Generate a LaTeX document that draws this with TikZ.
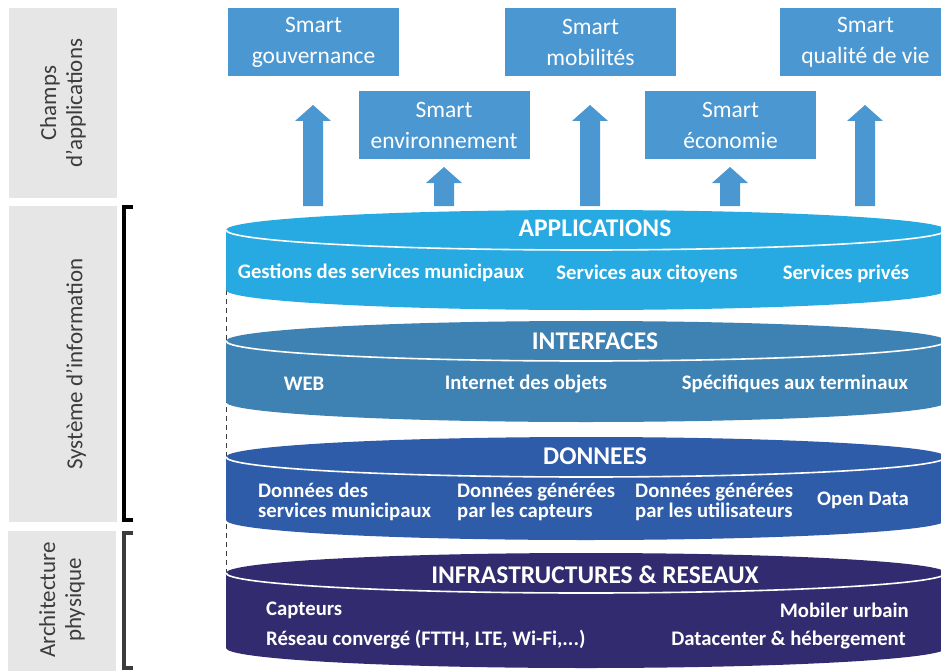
\documentclass[tikz,border=0pt]{standalone}
\usepackage{fontspec}
\setmainfont{Carlito}
\usetikzlibrary{positioning}
\definecolor{boxblue}{HTML}{4B97D1}
\definecolor{appcol}{HTML}{27A9E1}
\definecolor{intcol}{HTML}{3E81B3}
\definecolor{doncol}{HTML}{2F5CA8}
\definecolor{infcol}{HTML}{332B6F}
\definecolor{panelgray}{HTML}{E6E6E6}
\definecolor{labelgray}{HTML}{3C3C3C}
\pgfdeclarelayer{background}
\pgfdeclarelayer{foreground}
\pgfsetlayers{background,main,foreground}
\tikzset{
  smartbox/.style={fill=boxblue, text=white, minimum width=171pt, minimum height=68pt,
    inner sep=0pt, align=center, font=\fontsize{23.5}{31}\selectfont},
  layertitle/.style={text=white, font=\bfseries\fontsize{25.5}{27}\selectfont},
  layeritem/.style={text=white, align=left, inner sep=0pt, font=\bfseries\fontsize{20.7}{20.5}\selectfont},
  sidelabel/.style={text=labelgray, rotate=90, align=center, font=\fontsize{23}{26}\selectfont},
  panel/.style={fill=panelgray},
  bracket/.style={line width=3.5pt, line join=miter}
}
\newcommand\layercyl[4]{%
  \fill[#4] (226,#1) arc[start angle=180,end angle=360,x radius=360,y radius=#3]
    -- (946,#2) arc[start angle=0,end angle=180,x radius=360,y radius=#3] -- cycle;
  \draw[white,line width=1.6pt] (226,#1) arc[start angle=180,end angle=0,x radius=360,y radius=#3];
}
\newcommand\uparrowblock[3]{%
  \fill[boxblue] (#1-10,#3) -- (#1-10,#2+16) -- (#1-18,#2+16) -- (#1,#2)
    -- (#1+18,#2+16) -- (#1+10,#2+16) -- (#1+10,#3) -- cycle;
}
\begin{document}
\begin{tikzpicture}[x=1pt,y=-1pt]
\useasboundingbox (0,0) rectangle (941,671);
\clip (0,0) rectangle (941,671);

\fill[panel] (9,8) rectangle (117,198);
\fill[panel] (9,206) rectangle (117,522);
\fill[panel] (8,531) rectangle (116,671);
\node[sidelabel] (champs) at (63,103) {Champs\\d’applications};
\node[sidelabel] (sysinfo) at (76,364) {Système d’information};
\node[sidelabel] (archi) at (62,600) {Architecture\\physique};
\draw[bracket, black] (133,207) -- (124,207) -- (124,520) -- (133,520);
\draw[bracket, labelgray] (133,533) -- (124,533) -- (124,668) -- (133,668);

\node[smartbox] (gouv) at (313.5,42) {Smart\\gouvernance};
\node[smartbox] (mobil) at (590.5,42) {Smart\\mobilités};
\node[smartbox] (qualite) at (865.5,42) {Smart\\qualité de vie};
\node[smartbox] (envir) at (444,125) {Smart\\environnement};
\node[smartbox] (econ) at (730.5,125) {Smart\\économie};

\begin{pgfonlayer}{background}
\uparrowblock{313}{105}{206}
\uparrowblock{590}{105}{206}
\uparrowblock{865}{105}{206}
\uparrowblock{444}{167}{206}
\uparrowblock{730}{167}{206}
\draw[labelgray, line width=1pt, dash pattern=on 5pt off 4pt] (226,290) -- (226,573);
\end{pgfonlayer}

\layercyl{230}{290}{20}{appcol}
\node[layertitle] (apptitle) at (595,228) {APPLICATIONS};
\node[layeritem] (appa) at (381,273) {Gestions des services municipaux};
\node[layeritem] (appb) at (647,274) {Services aux citoyens};
\node[layeritem] (appc) at (846,274) {Services privés};

\layercyl{341}{402}{20}{intcol}
\node[layertitle] (inttitle) at (595,341) {INTERFACES};
\node[layeritem] (inta) at (304,384) {WEB};
\node[layeritem] (intb) at (526,384) {Internet des objets};
\node[layeritem] (intc) at (795,384) {Spécifiques aux terminaux};

\layercyl{457}{520}{20}{doncol}
\node[layertitle] (dontitle) at (595,456) {DONNEES};
\node[layeritem, anchor=west] (dona) at (258,502) {Données des\\services municipaux};
\node[layeritem, anchor=west] (donb) at (457,502) {Données générées\\par les capteurs};
\node[layeritem, anchor=west] (donc) at (635,502) {Données générées\\par les utilisateurs};
\node[layeritem] (dond) at (863,500) {Open Data};

\layercyl{573}{648}{20}{infcol}
\node[layertitle] (inftitle) at (595,575) {INFRASTRUCTURES \& RESEAUX};
\node[layeritem, anchor=west] (infa) at (266,610) {Capteurs};
\node[layeritem, anchor=west] (infb) at (266,640) {Réseau convergé (FTTH, LTE, Wi-Fi,...)};
\node[layeritem, anchor=east] (infc) at (909,610) {Mobiler urbain};
\node[layeritem, anchor=east] (infd) at (906,640) {Datacenter \& hébergement};
\end{tikzpicture}
\end{document}
